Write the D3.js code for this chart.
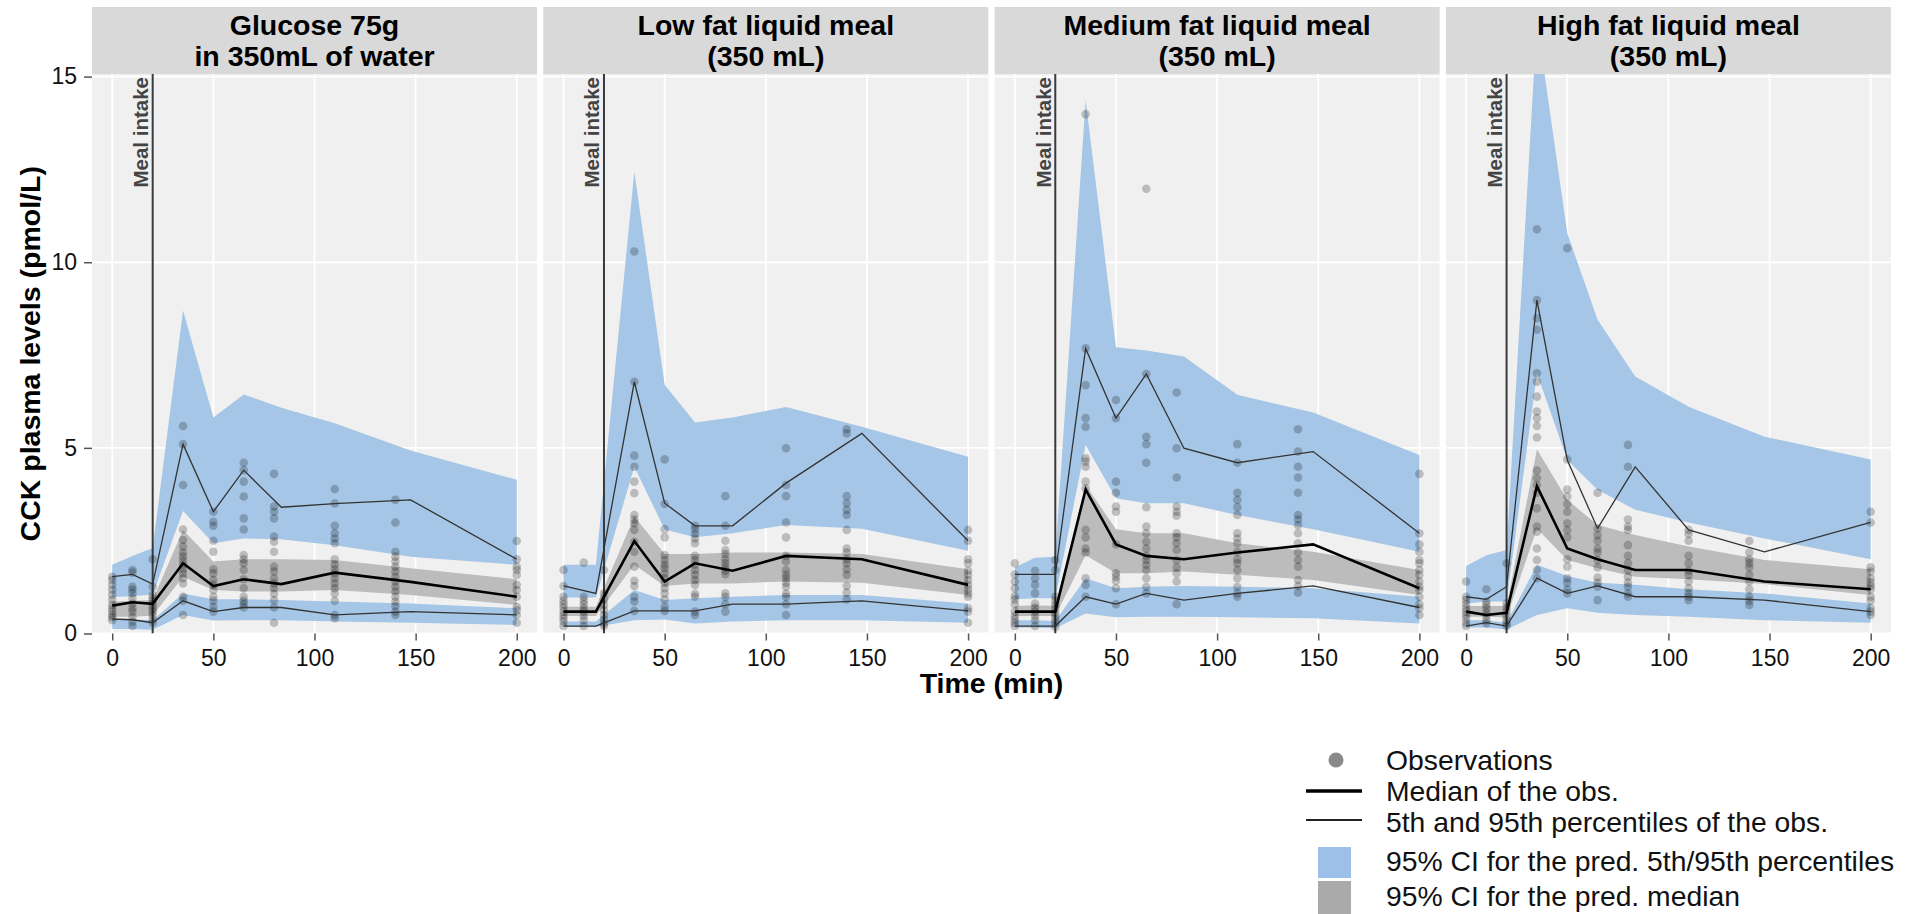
<!DOCTYPE html>
<html>
<head>
<meta charset="utf-8">
<script src="https://cdn.jsdelivr.net/npm/d3@7"></script>
<style>
  html, body { margin: 0; padding: 0; background: #ffffff; }
  svg { display: block; }
  text { font-family: "Liberation Sans", Arial, Helvetica, sans-serif; }
</style>
</head>
<body>
<script>
// ---------------- DATA ----------------
const panelTitles = [
  ["Glucose 75g", "in 350mL of water"],
  ["Low fat liquid meal", "(350 mL)"],
  ["Medium fat liquid meal", "(350 mL)"],
  ["High fat liquid meal", "(350 mL)"]
];
const xTicks = [0, 50, 100, 150, 200];
const yTicks = [0, 5, 10, 15];
const mealTime = 20;
const mealLabel = "Meal intake";
const xTitle = "Time (min)";
const yTitle = "CCK plasma levels (pmol/L)";
const obsTimes = [0, 10, 20, 35, 50, 65, 80, 110, 140, 200];

// bin mid-times used by the VPC lines and bands
const binTimes1 = [0, 10, 20, 35, 50, 65, 83.6, 110, 147.5, 200];
const binTimes2 = [0, 16, 35, 50, 65, 83.6, 110, 147.5, 200];
const binTimes3 = [0, 10, 20, 35, 50, 65, 83.6, 110, 147.5, 200];
const binTimes4 = [0, 10, 20, 35, 50, 65, 83.6, 110, 147.5, 200];

// 95% CI of predicted 95th percentile (upper blue band)
const p95Hi1 = [1.85, 2.09, 2.3, 8.7, 5.82, 6.44, 6.08, 5.66, 4.93, 4.14];
const p95Lo1 = [0.98, 1.0, 1.05, 3.3, 2.43, 2.56, 2.54, 2.38, 2.07, 1.85];
const p95Hi2 = [1.85, 1.85, 12.44, 6.7, 5.68, 5.82, 6.1, 5.57, 4.76];
const p95Lo2 = [0.97, 0.97, 4.49, 2.8, 2.59, 2.7, 2.92, 2.82, 2.23];
const p95Hi3 = [1.78, 2.04, 2.07, 14.37, 7.71, 7.62, 7.46, 6.43, 5.95, 4.81];
const p95Lo3 = [0.92, 0.95, 0.95, 5.08, 3.64, 3.51, 3.51, 3.19, 2.81, 2.2];
const p95Hi4 = [1.82, 2.11, 2.25, 16.5, 10.78, 8.45, 6.92, 6.11, 5.3, 4.69];
const p95Lo4 = [0.81, 0.86, 0.86, 7.01, 4.67, 3.87, 3.33, 2.99, 2.56, 2.0];

// 95% CI of predicted median (grey band)
const medHi1 = [0.86, 0.88, 0.9, 2.79, 1.94, 2.0, 2.0, 1.98, 1.76, 1.46];
const medLo1 = [0.45, 0.45, 0.48, 1.53, 1.17, 1.13, 1.13, 1.17, 1.04, 0.77];
const medHi2 = [0.72, 0.72, 3.15, 2.14, 2.14, 2.18, 2.18, 2.14, 1.73];
const medLo2 = [0.47, 0.47, 1.85, 1.28, 1.35, 1.35, 1.4, 1.37, 1.04];
const medHi3 = [0.74, 0.76, 0.74, 4.0, 2.81, 2.7, 2.7, 2.43, 2.2, 1.71];
const medLo3 = [0.47, 0.47, 0.47, 2.11, 1.62, 1.62, 1.67, 1.58, 1.44, 1.04];
const medHi4 = [0.74, 0.74, 0.74, 4.96, 3.6, 2.92, 2.65, 2.34, 1.98, 1.73];
const medLo4 = [0.45, 0.45, 0.43, 2.83, 1.98, 1.76, 1.53, 1.46, 1.33, 1.04];

// 95% CI of predicted 5th percentile (lower blue band)
const p5Hi1 = [0.38, 0.38, 0.36, 1.08, 0.92, 0.92, 0.9, 0.86, 0.81, 0.68];
const p5Lo1 = [0.12, 0.12, 0.1, 0.5, 0.35, 0.36, 0.36, 0.32, 0.29, 0.23];
const p5Hi2 = [0.32, 0.32, 1.17, 0.9, 0.95, 0.99, 1.04, 1.04, 0.81];
const p5Lo2 = [0.18, 0.18, 0.36, 0.38, 0.27, 0.32, 0.36, 0.36, 0.29];
const p5Hi3 = [0.36, 0.36, 0.34, 1.49, 1.22, 1.26, 1.28, 1.26, 1.22, 0.99];
const p5Lo3 = [0.16, 0.16, 0.14, 0.54, 0.44, 0.45, 0.45, 0.44, 0.41, 0.27];
const p5Hi4 = [0.36, 0.36, 0.29, 1.85, 1.55, 1.37, 1.31, 1.19, 1.08, 0.81];
const p5Lo4 = [0.16, 0.16, 0.11, 0.5, 0.68, 0.56, 0.5, 0.45, 0.36, 0.29];

// observed percentiles (lines)
const obsP95_1 = [1.53, 1.59, 1.33, 5.1, 3.28, 4.4, 3.4, 3.5, 3.6, 2.0];
const obsMed_1 = [0.75, 0.84, 0.8, 1.89, 1.28, 1.46, 1.33, 1.64, 1.39, 0.99];
const obsP5_1  = [0.39, 0.37, 0.29, 0.88, 0.59, 0.7, 0.7, 0.5, 0.59, 0.5];
const obsP95_2 = [1.28, 1.08, 6.78, 3.51, 2.9, 2.9, 4.05, 5.39, 2.5];
const obsMed_2 = [0.59, 0.59, 2.49, 1.4, 1.89, 1.69, 2.09, 2.0, 1.31];
const obsP5_2  = [0.2, 0.2, 0.61, 0.61, 0.61, 0.79, 0.79, 0.88, 0.61];
const obsP95_3 = [1.59, 1.59, 1.59, 7.68, 5.8, 6.99, 4.99, 4.6, 4.9, 2.7];
const obsMed_3 = [0.59, 0.59, 0.59, 3.88, 2.4, 2.09, 2.0, 2.18, 2.4, 1.22];
const obsP5_3  = [0.2, 0.2, 0.2, 0.99, 0.79, 1.08, 0.9, 1.08, 1.28, 0.7];
const obsP95_4 = [0.99, 0.92, 1.26, 8.98, 4.67, 2.83, 4.49, 2.79, 2.2, 2.99];
const obsMed_4 = [0.59, 0.5, 0.56, 3.97, 2.29, 2.0, 1.71, 1.71, 1.4, 1.19];
const obsP5_4  = [0.2, 0.29, 0.2, 1.49, 1.08, 1.28, 0.99, 0.99, 0.9, 0.59];

// individual observations, one list per nominal time in obsTimes
const obs1 = [
  [1.53,1.44,1.31,1.18,1.04,0.91,0.77,0.68,0.59,0.5,0.44,0.36],
  [1.71,1.64,1.26,1.18,1.08,0.95,0.81,0.68,0.59,0.45,0.32,0.2],
  [2.0,1.26,1.04,0.95,0.86,0.77,0.68,0.59,0.5,0.38,0.29],
  [5.59,5.1,4.0,2.8,2.52,2.34,2.18,2.07,1.96,1.85,1.73,1.62,1.49,1.35,0.99,0.88,0.5],
  [3.28,3.01,2.9,2.5,2.2,1.73,1.62,1.44,1.31,1.17,0.99,0.88,0.72,0.59],
  [4.6,4.4,4.09,3.69,3.1,2.8,2.11,2.0,1.89,1.71,1.46,1.22,0.99,0.88,0.79,0.7],
  [4.3,3.42,3.28,3.1,2.61,2.47,2.2,1.8,1.67,1.49,1.35,1.22,1.07,0.9,0.7,0.29],
  [3.89,3.5,2.9,2.7,2.56,2.43,2.0,1.85,1.73,1.62,1.49,1.35,1.22,1.08,0.88,0.5,0.41],
  [3.6,2.99,2.2,2.07,1.94,1.8,1.67,1.53,1.4,1.26,1.13,0.99,0.86,0.74,0.59,0.5],
  [2.49,2.0,1.8,1.71,1.58,1.31,1.17,0.99,0.72,0.63,0.5,0.29]
];
const obs2 = [
  [1.71,1.28,0.99,0.88,0.79,0.7,0.59,0.5,0.41,0.32,0.2],
  [1.91,0.99,0.88,0.79,0.68,0.59,0.47,0.36,0.2],
  [1.71,1.08,0.92,0.77,0.63,0.5,0.38,0.27,0.2],
  [10.29,6.78,4.79,4.49,4.09,3.78,3.19,3.07,2.97,2.79,2.47,2.2,1.8,1.42,1.28,0.99,0.86,0.61],
  [4.69,3.49,2.81,2.59,2.11,1.98,1.85,1.76,1.62,1.49,1.35,1.22,1.08,0.92,0.72,0.61],
  [2.9,2.81,2.68,2.56,2.43,2.09,1.98,1.85,1.71,1.58,1.44,1.31,1.07,0.99,0.59,0.5],
  [3.7,2.9,2.5,2.25,2.14,2.0,1.89,1.78,1.69,1.6,1.08,0.99,0.79,0.59],
  [4.99,4.0,3.7,2.99,2.59,2.09,1.94,1.71,1.58,1.49,1.37,1.26,1.07,0.99,0.79,0.5],
  [5.5,5.39,3.7,3.51,3.33,3.19,2.79,2.29,2.18,2.0,1.89,1.73,1.58,1.28,1.1,0.92],
  [2.79,2.5,2.0,1.89,1.69,1.58,1.44,1.31,1.19,1.08,0.99,0.68,0.59,0.29]
];
const obs3 = [
  [1.89,1.59,1.4,1.22,1.01,0.92,0.79,0.59,0.47,0.38,0.29,0.2],
  [1.69,1.49,1.31,1.08,0.81,0.7,0.59,0.47,0.36,0.2],
  [1.98,1.71,0.99,0.88,0.77,0.68,0.56,0.47,0.38,0.29,0.18],
  [13.99,7.68,6.69,5.8,5.57,4.72,4.63,4.49,4.09,3.91,2.79,2.59,2.29,2.18,1.49,1.31,0.99],
  [6.29,5.8,4.09,3.79,3.42,3.28,2.4,1.62,1.53,1.42,1.22,0.79],
  [11.98,6.99,5.3,5.1,4.6,3.4,2.88,2.7,2.47,2.29,2.09,1.98,1.85,1.71,1.49,1.26,1.08],
  [6.49,4.99,4.2,3.42,3.28,3.17,2.7,2.59,2.43,2.25,1.98,1.78,1.62,1.4,0.79],
  [5.1,4.6,3.79,3.6,3.4,3.19,2.7,2.56,2.43,2.2,2.0,1.89,1.71,1.49,1.26,1.08,0.99],
  [5.5,4.9,4.49,4.2,3.79,3.19,3.07,2.92,2.7,2.43,2.18,1.98,1.8,1.44,1.28,1.1],
  [4.3,2.7,2.4,2.2,1.98,1.89,1.71,1.58,1.4,1.26,1.17,0.99,0.79,0.68,0.5]
];
const obs4 = [
  [1.4,0.99,0.9,0.79,0.68,0.59,0.5,0.41,0.29,0.2],
  [1.19,0.86,0.77,0.68,0.56,0.47,0.36,0.27],
  [1.89,0.81,0.7,0.59,0.47,0.36,0.27,0.2],
  [10.89,8.98,8.49,8.18,7.01,6.78,6.38,5.98,5.8,5.59,5.28,4.39,4.18,4.0,3.79,3.37,2.88,2.74,2.29,1.98,1.71,1.49],
  [10.38,4.69,3.88,3.69,3.49,3.28,2.97,2.79,2.59,2.0,1.8,1.49,1.37,1.19,1.08],
  [3.79,2.83,2.65,2.5,2.29,2.18,1.98,1.78,1.51,1.37,1.26,0.9],
  [5.08,4.49,3.07,2.88,2.79,2.38,2.09,1.89,1.71,1.53,1.37,1.26,1.08,0.99],
  [2.79,2.68,2.5,2.09,1.89,1.69,1.58,1.4,1.22,1.08,0.99,0.9],
  [2.49,2.18,2.0,1.89,1.78,1.58,1.4,1.19,0.99,0.88,0.77],
  [3.28,2.99,1.78,1.67,1.49,1.37,1.28,1.19,0.99,0.88,0.68,0.59,0.5]
];

const legendLabels = [
  "Observations",
  "Median of the obs.",
  "5th and 95th percentiles of the obs.",
  "95% CI for the pred. 5th/95th percentiles",
  "95% CI for the pred. median"
];

// ---------------- BUILD ----------------
const panels = [
  {title: panelTitles[0], bins: binTimes1, p95Hi: p95Hi1, p95Lo: p95Lo1, medHi: medHi1, medLo: medLo1, p5Hi: p5Hi1, p5Lo: p5Lo1, oP95: obsP95_1, oMed: obsMed_1, oP5: obsP5_1, obs: obs1},
  {title: panelTitles[1], bins: binTimes2, p95Hi: p95Hi2, p95Lo: p95Lo2, medHi: medHi2, medLo: medLo2, p5Hi: p5Hi2, p5Lo: p5Lo2, oP95: obsP95_2, oMed: obsMed_2, oP5: obsP5_2, obs: obs2},
  {title: panelTitles[2], bins: binTimes3, p95Hi: p95Hi3, p95Lo: p95Lo3, medHi: medHi3, medLo: medLo3, p5Hi: p5Hi3, p5Lo: p5Lo3, oP95: obsP95_3, oMed: obsMed_3, oP5: obsP5_3, obs: obs3},
  {title: panelTitles[3], bins: binTimes4, p95Hi: p95Hi4, p95Lo: p95Lo4, medHi: medHi4, medLo: medLo4, p5Hi: p5Hi4, p5Lo: p5Lo4, oP95: obsP95_4, oMed: obsMed_4, oP5: obsP5_4, obs: obs4}
];

const W = 1907, H = 914;
const panelLeft0 = 92, panelStep = 451.3, panelW = 445;
const stripTop = 7, panelTop = 74, panelBottom = 633.5;
const BLUE = "#a5c6e6", GREYBAND = "#bcbcbc", PANELBG = "#f0f0f0", STRIP = "#d9d9d9";

const svg = d3.select("body").append("svg").attr("width", W).attr("height", H);
svg.append("rect").attr("width", W).attr("height", H).attr("fill", "#fff");

const y = d3.scaleLinear().domain([0, 15.07]).range([panelBottom, panelTop]);

panels.forEach((p, i) => {
  const left = panelLeft0 + i * panelStep;
  const x = d3.scaleLinear().domain([-10, 210]).range([left, left + panelW]);
  const g = svg.append("g");

  // strip
  g.append("rect").attr("x", left).attr("y", stripTop).attr("width", panelW)
    .attr("height", panelTop - stripTop).attr("fill", STRIP);
  g.selectAll("text.strip").data(p.title).join("text")
    .attr("class", "strip")
    .attr("x", left + panelW / 2)
    .attr("y", (d, k) => 35 + k * 31)
    .attr("text-anchor", "middle")
    .attr("font-size", 28.5).attr("font-weight", "bold").attr("fill", "#000")
    .text(d => d);

  // panel background
  g.append("rect").attr("x", left).attr("y", panelTop).attr("width", panelW)
    .attr("height", panelBottom - panelTop).attr("fill", PANELBG);

  // grid
  g.selectAll("line.gx").data(xTicks).join("line")
    .attr("x1", d => x(d)).attr("x2", d => x(d))
    .attr("y1", panelTop).attr("y2", panelBottom)
    .attr("stroke", "#fff").attr("stroke-width", 1.8);
  g.selectAll("line.gy").data(yTicks).join("line")
    .attr("x1", left).attr("x2", left + panelW)
    .attr("y1", d => y(d)).attr("y2", d => y(d))
    .attr("stroke", "#fff").attr("stroke-width", 1.8);

  // clip
  const cid = "clip" + i;
  svg.append("clipPath").attr("id", cid).append("rect")
    .attr("x", left).attr("y", panelTop).attr("width", panelW).attr("height", panelBottom - panelTop);
  const c = g.append("g").attr("clip-path", `url(#${cid})`);

  const band = (lo, hi) => d3.area()
    .x((d, k) => x(p.bins[k]))
    .y0((d, k) => y(lo[k]))
    .y1((d, k) => y(hi[k]))(p.bins);
  const line = (vals) => d3.line()
    .x((d, k) => x(p.bins[k]))
    .y((d, k) => y(vals[k]))(p.bins);

  c.append("path").attr("d", band(p.p95Lo, p.p95Hi)).attr("fill", BLUE);
  c.append("path").attr("d", band(p.p5Lo, p.p5Hi)).attr("fill", BLUE);
  c.append("path").attr("d", band(p.medLo, p.medHi)).attr("fill", GREYBAND);

  // meal intake line
  c.append("line").attr("x1", x(mealTime)).attr("x2", x(mealTime))
    .attr("y1", panelTop).attr("y2", panelBottom)
    .attr("stroke", "#3a3a3a").attr("stroke-width", 2);

  // observations
  const pts = [];
  p.obs.forEach((vals, k) => vals.forEach(v => pts.push([obsTimes[k], v])));
  c.selectAll("circle").data(pts).join("circle")
    .attr("cx", d => x(d[0])).attr("cy", d => y(d[1])).attr("r", 4.3)
    .attr("fill", "#000").attr("fill-opacity", 0.22);

  // observed percentiles lines
  c.append("path").attr("d", line(p.oP95)).attr("fill", "none").attr("stroke", "#333").attr("stroke-width", 1.3);
  c.append("path").attr("d", line(p.oP5)).attr("fill", "none").attr("stroke", "#333").attr("stroke-width", 1.3);
  c.append("path").attr("d", line(p.oMed)).attr("fill", "none").attr("stroke", "#000").attr("stroke-width", 2.6);

  // meal label
  c.append("text")
    .attr("transform", `translate(${x(mealTime) - 4.5},${panelTop + 3}) rotate(-90)`)
    .attr("text-anchor", "end")
    .attr("font-size", 20.5).attr("font-weight", "bold").attr("fill", "#444")
    .text(mealLabel);

  // x axis
  const xa = g.append("g").attr("transform", `translate(0,${panelBottom})`)
    .call(d3.axisBottom(x).tickValues(xTicks).tickSize(7).tickSizeOuter(0).tickPadding(9));
  xa.select(".domain").remove();
  xa.selectAll("line").attr("stroke", "#555").attr("stroke-width", 1.5);
  xa.selectAll("text").attr("font-size", 23).attr("fill", "#111")
    .attr("font-family", "Liberation Sans, Arial, sans-serif");

  if (i === 0) {
    const ya = g.append("g").attr("transform", `translate(${left},0)`)
      .call(d3.axisLeft(y).tickValues(yTicks).tickSize(8).tickSizeOuter(0).tickPadding(7));
    ya.select(".domain").remove();
    ya.selectAll("line").attr("stroke", "#555").attr("stroke-width", 1.5);
    ya.selectAll("text").attr("font-size", 23).attr("fill", "#111")
      .attr("font-family", "Liberation Sans, Arial, sans-serif");
  }
});

// axis titles
svg.append("text").attr("x", (panelLeft0 + panelLeft0 + 3 * panelStep + panelW) / 2).attr("y", 693)
  .attr("text-anchor", "middle").attr("font-size", 28.5).attr("font-weight", "bold").attr("fill", "#000")
  .text(xTitle);
svg.append("text")
  .attr("transform", `translate(40,${(panelTop + panelBottom) / 2}) rotate(-90)`)
  .attr("text-anchor", "middle").attr("font-size", 28.5).attr("font-weight", "bold").attr("fill", "#000")
  .text(yTitle);

// legend
const lg = svg.append("g");
const rowY = [760, 791, 822, 861, 896];
lg.append("circle").attr("cx", 1336).attr("cy", rowY[0]).attr("r", 7.5).attr("fill", "#8a8a8a");
lg.append("line").attr("x1", 1306).attr("x2", 1362).attr("y1", rowY[1]).attr("y2", rowY[1])
  .attr("stroke", "#000").attr("stroke-width", 3.5);
lg.append("line").attr("x1", 1306).attr("x2", 1362).attr("y1", rowY[2] - 2).attr("y2", rowY[2] - 2)
  .attr("stroke", "#222").attr("stroke-width", 1.8);
lg.append("rect").attr("x", 1318).attr("y", 847).attr("width", 33).attr("height", 31).attr("fill", "#9dc0e8");
lg.append("rect").attr("x", 1318).attr("y", 881).attr("width", 33).attr("height", 33).attr("fill", "#aaaaaa");
lg.selectAll("text").data(legendLabels).join("text")
  .attr("x", 1386).attr("y", (d, k) => rowY[k])
  .attr("dominant-baseline", "central")
  .attr("font-size", 28.3).attr("fill", "#111")
  .text(d => d);
</script>
</body>
</html>
